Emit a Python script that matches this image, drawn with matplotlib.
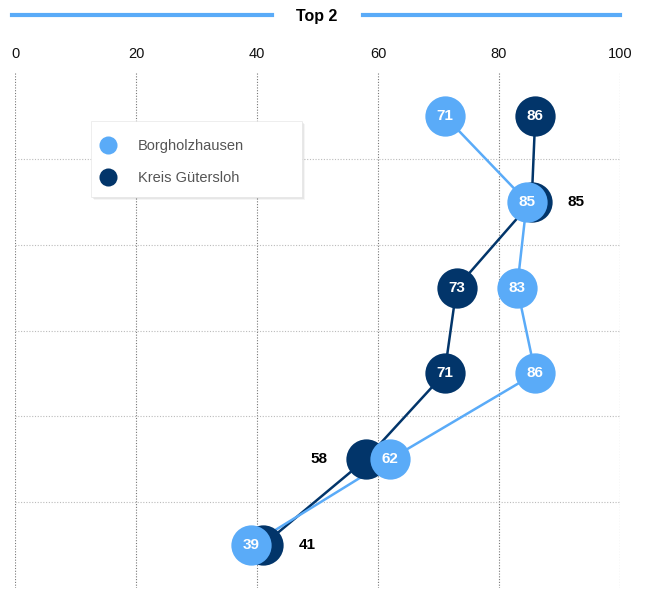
import numpy as np
import matplotlib
matplotlib.use("Agg")
import matplotlib.pyplot as plt
from matplotlib.lines import Line2D
from matplotlib.patches import Rectangle

plt.rcParams['font.family'] = ['Liberation Sans', 'DejaVu Sans']

# data (rows from top to bottom)
rows = np.arange(6)
borgholzhausen = [71, 84.6, 83, 86, 62, 39]
guetersloh = [86, 85.4, 73, 71, 58, 41]
# where the Kreis label goes when the light circle covers it
label_side_gt = ["in", "right", "in", "in", "left", "right"]
ticks = [0, 20, 40, 60, 80, 100]

c_light = "#5aabf8"
c_dark = "#02356a"

fig = plt.figure(figsize=(6.45, 5.9), dpi=100)
ax = fig.add_axes([15/645, 2/590, 605/645, 515/590])

ax.set_xlim(0, 100)
ax.set_ylim(5.5, -0.5)

# grid
for t in ticks:
    ax.axvline(t, color="#777777", lw=0.8, ls=(0, (1, 1.5)), zorder=0)
for r in rows[:-1]:
    ax.axhline(r + 0.5, color="#bbbbbb", lw=0.8, ls=(0, (1, 1.5)), zorder=0)

for s in ax.spines.values():
    s.set_visible(False)
ax.set_yticks([])
ax.set_xticks(ticks)
ax.xaxis.tick_top()
ax.tick_params(axis="x", length=0, pad=9, labelsize=10.5, labelcolor="#111111")

# lines
ax.plot(guetersloh, rows, color=c_dark, lw=1.8, zorder=2)
ax.plot(borgholzhausen, rows, color=c_light, lw=1.8, zorder=3)

# markers
ms = 29
ax.plot(guetersloh, rows, ls="none", marker="o", ms=ms, color=c_dark, mec="none", zorder=4)
ax.plot(borgholzhausen, rows, ls="none", marker="o", ms=ms, color=c_light, mec="none", zorder=5)

for x, y in zip(borgholzhausen, rows):
    ax.text(x, y, "%d" % round(x), color="white", fontsize=11, fontweight="bold",
            ha="center", va="center", zorder=6)
for x, y, side in zip(guetersloh, rows, label_side_gt):
    if side == "in":
        ax.text(x, y, "%d" % round(x), color="white", fontsize=11, fontweight="bold",
                ha="center", va="center", zorder=6)
    else:
        off = 32 if side == "right" else -34
        ax.annotate("%d" % round(x), (x, y), xytext=(off, 0), textcoords="offset points",
                    color="black", fontsize=11, fontweight="bold",
                    ha="center", va="center", zorder=6)

# legend box (drawn by hand, wider than the legend content)
bx, by, bw, bh = 91, 121, 211, 76
for k, a in [(3, 0.04), (2, 0.06), (1, 0.08)]:
    fig.add_artist(Rectangle(((bx + k) / 645, 1 - (by + bh + k) / 590), bw / 645, bh / 590,
                             facecolor="black", alpha=a, edgecolor="none", zorder=8))
fig.add_artist(Rectangle((bx / 645, 1 - (by + bh) / 590), bw / 645, bh / 590,
                         facecolor="white", edgecolor="#e8e8e8", lw=0.5, zorder=9))

handles = [Line2D([], [], ls="none", marker="o", ms=13, color=c_light, mec="none"),
           Line2D([], [], ls="none", marker="o", ms=13, color=c_dark, mec="none")]
leg = fig.legend(handles, ["Borgholzhausen", "Kreis Gütersloh"], loc="upper left",
                 bbox_to_anchor=(99 / 645, 1 - 139 / 590), frameon=False,
                 fontsize=10.5, labelcolor="#555555", handletextpad=1.45,
                 borderpad=0, labelspacing=1.26, handlelength=1.2,
                 borderaxespad=0)
leg.set_zorder(10)

# title with side bars
fig.text(317/645, 1 - 17/590, "Top 2", ha="center", va="center", fontsize=11.5, fontweight="bold")
fig.add_artist(Line2D([12/645, 272/645], [1 - 15/590] * 2, color=c_light, lw=3))
fig.add_artist(Line2D([363/645, 620/645], [1 - 15/590] * 2, color=c_light, lw=3))

fig.savefig("out.png", dpi=100)
